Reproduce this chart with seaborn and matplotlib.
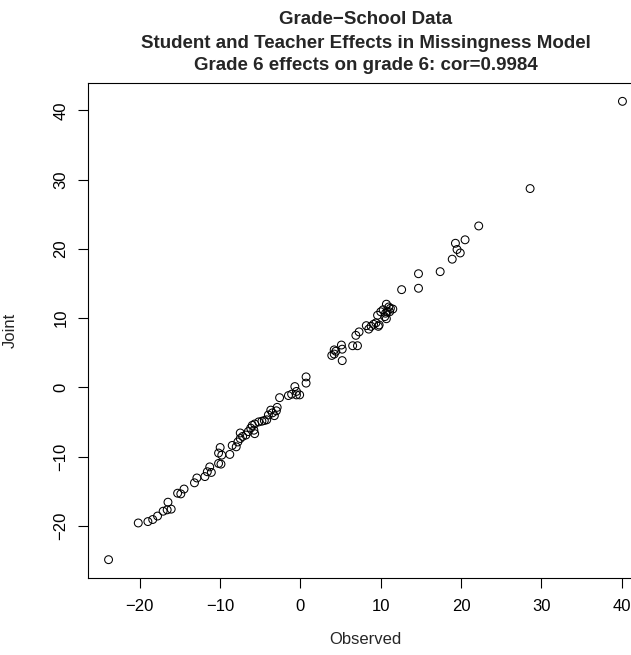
import matplotlib
matplotlib.use("Agg")
import matplotlib.pyplot as plt
import seaborn as sns
import numpy as np
import pandas as pd

observed = [
    -23.9, -20.2, -19.0, -18.4, -17.8, -17.1, -16.6, -16.1, -16.5, -15.3,
    -14.9, -14.5, -13.2, -12.9, -11.9, -11.6, -11.1, -11.3, -10.2, -9.9,
    -10.2, -10.0, -9.8, -8.8, -8.5, -8.0, -7.8, -7.5, -7.5, -7.2,
    -6.8, -6.5, -6.2, -5.8, -5.7, -6.0, -5.7, -5.2, -4.8, -4.5,
    -4.2, -4.0, -3.7, -3.5, -3.25, -3.0, -2.9, -2.6, -1.5, -1.1,
    -0.7, -0.5, -0.1, -0.5, 0.7, 0.7,
    3.9, 4.2, 4.2, 4.4, 5.1, 5.2, 5.2, 6.5, 7.1, 6.9,
    7.3, 8.2, 8.5, 8.8, 9.1, 9.4, 9.7, 9.8, 9.6, 10.0,
    10.3, 10.5, 10.6, 10.7, 11.0, 10.8, 11.2, 11.5, 11.1, 10.7,
    12.6, 14.7, 14.7, 17.4, 18.9, 19.3, 19.5, 19.9, 20.5, 22.2,
    28.6, 40.1,
]
joint = [
    -24.9, -19.6, -19.4, -19.1, -18.6, -17.9, -17.7, -17.6, -16.6, -15.3,
    -15.4, -14.7, -13.8, -13.1, -12.9, -12.2, -12.3, -11.5, -11.0, -11.1,
    -9.5, -8.7, -9.8, -9.7, -8.4, -8.6, -7.9, -6.6, -7.4, -7.1,
    -6.9, -6.4, -5.9, -6.2, -6.7, -5.5, -5.3, -5.0, -4.9, -4.8,
    -4.7, -4.0, -3.3, -3.7, -4.1, -3.4, -2.9, -1.5, -1.2, -1.0,
    0.1, -0.6, -1.1, -1.1, 1.5, 0.6,
    4.6, 4.8, 5.4, 5.2, 6.1, 5.5, 3.85, 6.0, 6.0, 7.5,
    8.0, 8.9, 8.4, 8.8, 9.1, 9.3, 8.8, 9.0, 10.4, 10.9,
    11.2, 10.2, 10.7, 12.0, 11.6, 10.9, 11.4, 11.3, 10.9, 9.9,
    14.1, 16.4, 14.3, 16.7, 18.5, 20.8, 19.9, 19.4, 21.3, 23.3,
    28.7, 41.3,
]
x_ticks = [-20, -10, 0, 10, 20, 30, 40]
y_ticks = [-20, -10, 0, 10, 20, 30, 40]
title_lines = ["Grade\u2212School Data",
               "Student and Teacher Effects in Missingness Model",
               "Grade 6 effects on grade 6: cor=0.9984"]
x_label = "Observed"
y_label = "Joint"

df = pd.DataFrame({"Observed": observed, "Joint": joint})

sns.set_style("white")
plt.rcParams["font.family"] = ["Liberation Sans", "DejaVu Sans"]
plt.rcParams["axes.unicode_minus"] = True

W, H = 631, 655
dpi = 100
fig = plt.figure(figsize=(W / dpi, H / dpi), dpi=dpi)
left, right, top, bottom = 88, 643, 83, 578
ax = fig.add_axes([left / W, 1 - bottom / H, (right - left) / W, (bottom - top) / H])

sns.scatterplot(data=df, x="Observed", y="Joint", ax=ax, marker="o",
                s=32, facecolors="none", edgecolor="black", linewidth=0.75,
                legend=False)

def rlim(v):
    lo, hi = min(v), max(v)
    pad = 0.04 * (hi - lo)
    return lo - pad, hi + pad

ax.set_xlim(*rlim(observed))
ax.set_ylim(*rlim(joint))
ax.set_xticks(x_ticks)
ax.set_yticks(y_ticks)
ax.set_xticklabels([f"{t}".replace("-", "\u2212") for t in x_ticks])
ax.set_yticklabels([f"{t}".replace("-", "\u2212") for t in y_ticks],
                   rotation=90, va="center")
ax.tick_params(axis="both", direction="out", length=7, width=0.8,
               color="black", labelsize=12, labelcolor="black",
               bottom=True, left=True)
ax.tick_params(axis="x", pad=8)
ax.tick_params(axis="y", pad=7)
for s in ax.spines.values():
    s.set_color("black")
    s.set_linewidth(0.8)
    s.set_visible(True)
ax.set_xlabel("")
ax.set_ylabel("")

cx = ((left + right) / 2) / W
cy = 1 - ((top + bottom) / 2) / H
fig.text(cx, 1 - 640 / H, x_label, ha="center", va="center", fontsize=12)
fig.text(10 / W, cy, y_label, ha="center", va="center", rotation=90, fontsize=12)
for i, line in enumerate(title_lines):
    fig.text(cx, 1 - (20 + 23 * i) / H, line, ha="center", va="center",
             fontsize=13.5, fontweight="bold")

fig.savefig("out.png", dpi=dpi)
